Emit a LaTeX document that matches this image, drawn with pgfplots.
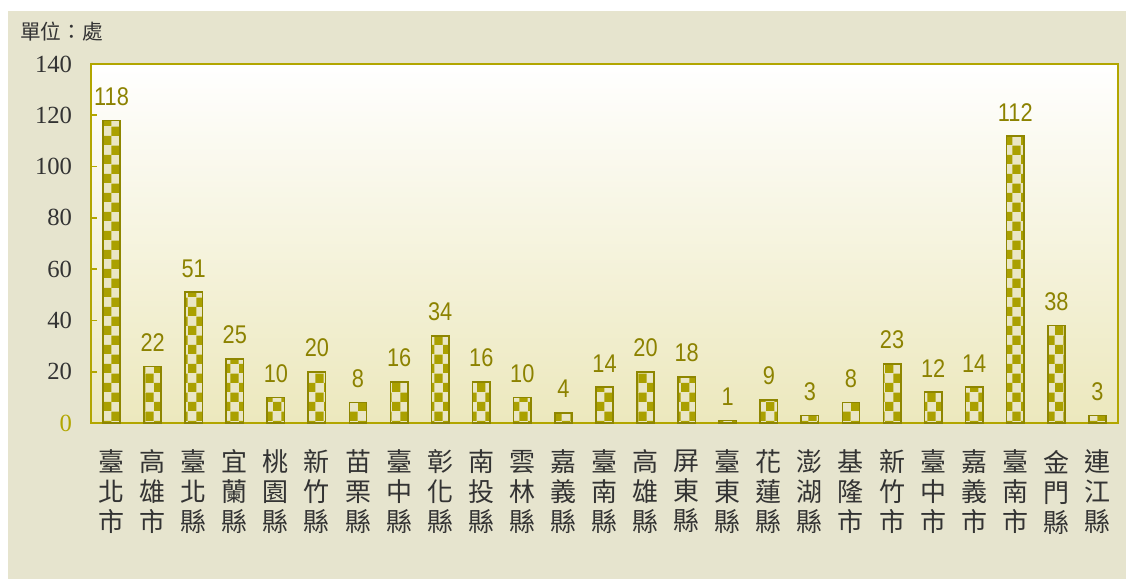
\documentclass[border=0pt]{standalone}
\usepackage{pgfplots}
\pgfplotsset{compat=1.18}
\usepackage{fontspec}
\setmainfont{Liberation Serif}
\newfontfamily\numfont[FakeStretch=0.85]{Liberation Sans}
\newfontfamily\cjk{Noto Sans CJK TC}
\usetikzlibrary{patterns.meta}
\definecolor{bgbeige}{HTML}{E6E4CE}
\definecolor{axisol}{HTML}{B2A600}
\definecolor{barol}{HTML}{AAA000}
\definecolor{barcream}{HTML}{EAE6C4}
\definecolor{barborder}{HTML}{8E8600}
\definecolor{lblol}{HTML}{8C8200}
\definecolor{plotbot}{HTML}{ECE8BD}
\definecolor{txtgray}{HTML}{333333}
\tikzdeclarepattern{
  name=mycheck,
  type=uncolored,
  bottom left={(0pt,0pt)},
  top right={(13pt,14pt)},
  tile size={(13pt,14pt)},
  code={
    \fill (0pt,0pt) rectangle (6.5pt,7pt);
    \fill (6.5pt,7pt) rectangle (13pt,14pt);
  }
}
\begin{document}
\begin{tikzpicture}
\path[use as bounding box] (0,0) rectangle (844.5pt,434.25pt);
\fill[white] (0,0) rectangle (844.5pt,434.25pt);
\fill[bgbeige] (6pt,0) rectangle (844.5pt,426pt);
\node[anchor=west, inner sep=0pt, text=txtgray, font=\cjk\fontsize{15.5}{18}\selectfont] at (15pt,410.25pt) {單位：處};
\begin{axis}[
  at={(68.25pt,117pt)}, anchor=south west,
  scale only axis, width=770.25pt, height=269.25pt,
  xmin=-0.5, xmax=24.5, ymin=0, ymax=140,
  axis line style={axisol, line width=1.5pt},
  axis background/.style={top color=white, bottom color=plotbot},
  tick align=inside, xtick pos=bottom, ytick pos=left,
  ytick={0,20,...,140},
  yticklabels={\textcolor{axisol}{0},20,40,60,80,100,120,140},
  major tick length=4.5pt,
  tick style={axisol, line width=1.2pt},
  xtick={0,...,24},
  x tick style={draw=none},
  minor xtick={0.5,1.5,...,23.5},
  minor x tick style={axisol, line width=1.2pt},
  minor tick length=6.75pt,
  /pgf/number format/assume math mode=true,
  yticklabel style={font=\fontsize{18.5}{20}\selectfont, text=txtgray, inner sep=0pt, anchor=east, xshift=-14pt},
  xticklabel style={font=\cjk\fontsize{19.5}{22.5}\selectfont, text=txtgray, align=center, anchor=north, inner sep=0pt, yshift=-20pt},
  xticklabels={{臺\\北\\市},{高\\雄\\市},{臺\\北\\縣},{宜\\蘭\\縣},{桃\\園\\縣},{新\\竹\\縣},{苗\\栗\\縣},{臺\\中\\縣},{彰\\化\\縣},{南\\投\\縣},{雲\\林\\縣},{嘉\\義\\縣},{臺\\南\\縣},{高\\雄\\縣},{屏\\東\\縣},{臺\\東\\縣},{花\\蓮\\縣},{澎\\湖\\縣},{基\\隆\\市},{新\\竹\\市},{臺\\中\\市},{嘉\\義\\市},{臺\\南\\市},{金\\門\\縣},{連\\江\\縣}},
  clip=false,
]
\addplot[ybar, bar width=13pt, draw=barborder, line width=1.2pt, fill=barcream,
  postaction={pattern=mycheck, pattern color=barol},
  nodes near coords,
  every node near coord/.append style={font=\numfont\fontsize{19.2}{20}\selectfont, text=lblol, inner sep=0pt, anchor=south, yshift=10.5pt},
] coordinates {
(0,118) (1,22) (2,51) (3,25) (4,10) (5,20) (6,8) (7,16) (8,34) (9,16)
(10,10) (11,4) (12,14) (13,20) (14,18) (15,1) (16,9) (17,3) (18,8) (19,23)
(20,12) (21,14) (22,112) (23,38) (24,3)
};
\end{axis}
\end{tikzpicture}
\end{document}
